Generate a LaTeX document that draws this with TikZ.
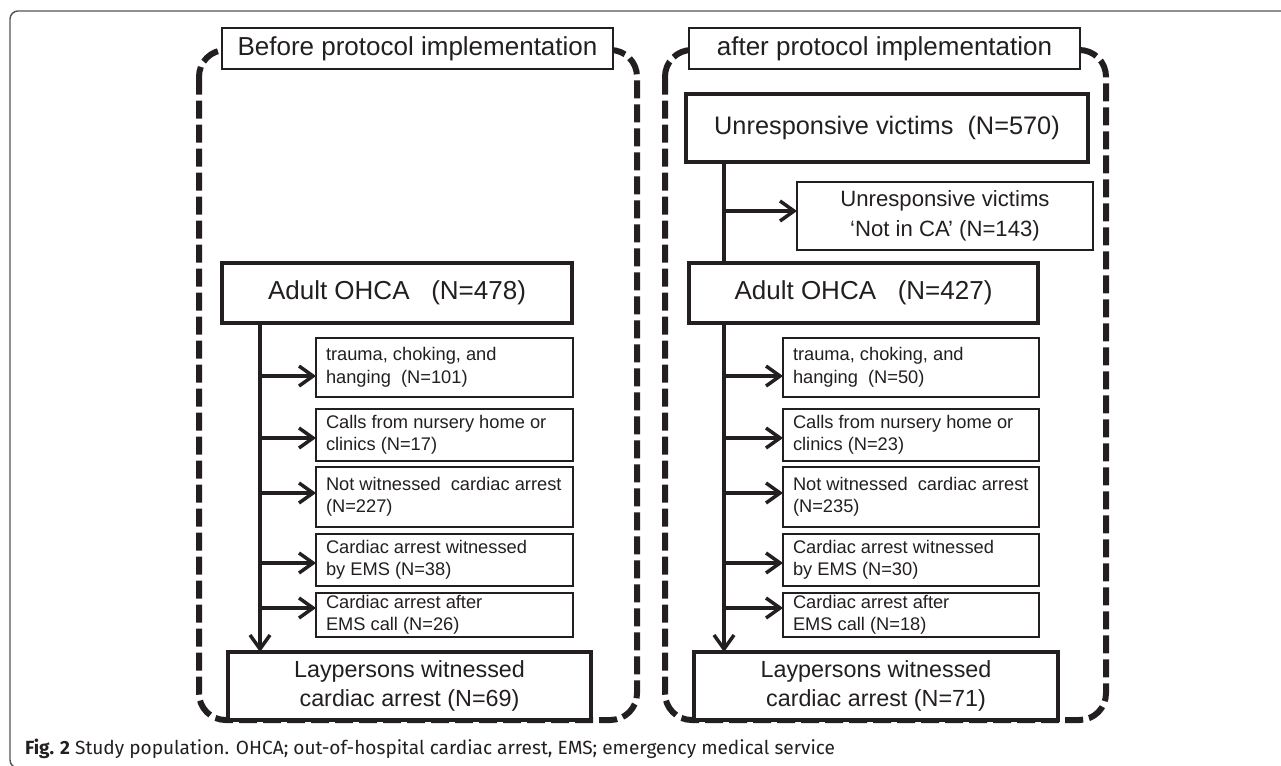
\documentclass[tikz,border=0pt]{standalone}
\usepackage{fontspec}
\setmainfont{Liberation Sans}
\newfontfamily\capfont{Fira Sans}
\usetikzlibrary{arrows.meta}
\definecolor{ink}{HTML}{231F20}
\definecolor{framegray}{HTML}{555555}

\newcommand\mkbox[7]{%
  \pgfmathsetmacro\bxcx{(#3+#5)/2}%
  \pgfmathsetmacro\bxcy{(#4+#6)/2}%
  \pgfmathsetmacro\bxw{(#5-#3)*0.75}%
  \pgfmathsetmacro\bxh{(#6-#4)*0.75}%
  \node[#2, minimum width=\bxw pt, minimum height=\bxh pt] (#1) at (\bxcx,\bxcy) {#7};%
}

\tikzset{
  every node/.style={inner sep=0pt, outer sep=0pt, text=ink},
  titlebox/.style={draw=ink, line width=0.9pt, fill=white, font=\fontsize{19.5pt}{23pt}\selectfont},
  bigbox/.style={draw=ink, line width=2.6pt, fill=white, align=center},
  midbox/.style={draw=ink, line width=2.2pt, fill=white, align=center, font=\fontsize{16.6pt}{22.5pt}\selectfont},
  smallbox/.style={draw=ink, line width=1.4pt, fill=white},
  smalltext/.style={anchor=west, align=left, font=\fontsize{13.7pt}{16.9pt}\selectfont},
  laybox/.style={bigbox, font=\fontsize{17.5pt}{21.75pt}\selectfont},
  panel/.style={draw=ink, line width=4.5pt, dash pattern=on 13.5pt off 4.5pt, rounded corners=20pt},
  frameline/.style={draw=framegray, line width=1.1pt, rounded corners=6pt},
  trunk/.style={draw=ink, line width=2.6pt},
  arr/.style={draw=ink, line width=2.6pt, -{Straight Barb[length=10.5pt, width=15pt]}},
}

\begin{document}
\begin{tikzpicture}[x=0.75pt, y=-0.75pt]
\useasboundingbox (0,0) rectangle (1281,766);

% outer frame
\draw[frameline] (1300,11) -- (10,11) -- (10,768) -- (60,768);

% dashed panels
\draw[panel] (199,50) rectangle (637,720);
\draw[panel] (665,50) rectangle (1106,720);

% titles
\mkbox{tL}{titlebox}{222}{28}{613}{69}{Before protocol implementation}
\mkbox{tR}{titlebox}{689}{28}{1080}{69}{after protocol implementation}

% ---------- left panel ----------
\mkbox{aL}{bigbox, font=\fontsize{19.5pt}{23pt}\selectfont}{222}{263}{572}{323}{Adult OHCA\ \ \ (N=478)}
\mkbox{s1L}{smallbox}{316}{338}{573}{397}{}
\mkbox{s2L}{smallbox}{316}{409}{573}{461}{}
\mkbox{s3L}{smallbox}{316}{467}{573}{527}{}
\mkbox{s4L}{smallbox}{316}{534}{573}{586}{}
\mkbox{s5L}{smallbox}{316}{593}{573}{637}{}
\node[smalltext] (s1Lt) at ([xshift=7.5pt]s1L.west) {trauma, choking, and\\hanging\ \ (N=101)};
\node[smalltext] (s2Lt) at ([xshift=7.5pt]s2L.west) {Calls from nursery home or\\clinics (N=17)};
\node[smalltext] (s3Lt) at ([xshift=7.5pt]s3L.west) {Not witnessed\ \ cardiac arrest\\(N=227)};
\node[smalltext] (s4Lt) at ([xshift=7.5pt]s4L.west) {Cardiac arrest witnessed\\by EMS (N=38)};
\node[smalltext] (s5Lt) at ([xshift=7.5pt]s5L.west) {Cardiac arrest after\\EMS call (N=26)};
\mkbox{lL}{laybox}{228}{652}{591}{720}{Laypersons witnessed\\cardiac arrest (N=69)}

\coordinate (trL) at ([xshift=28.5pt]aL.south west);
\draw[arr] (trL) -- (trL |- lL.north);
\draw[arr] ([yshift=-6.4pt]s1L.west -| trL) -- ([yshift=-6.4pt]s1L.west);
\draw[arr] ([yshift=-2.25pt]s2L.west -| trL) -- ([yshift=-2.25pt]s2L.west);
\draw[arr] ([yshift=3pt]s3L.west -| trL) -- ([yshift=3pt]s3L.west);
\draw[arr] ([yshift=-2.25pt]s4L.west -| trL) -- ([yshift=-2.25pt]s4L.west);
\draw[arr] ([yshift=5.25pt]s5L.west -| trL) -- ([yshift=5.25pt]s5L.west);

% ---------- right panel ----------
\mkbox{uR}{bigbox, font=\fontsize{19pt}{23pt}\selectfont}{686}{94}{1088}{162}{Unresponsive victims\ \ (N=570)}
\mkbox{nR}{midbox}{797}{182}{1093}{250}{Unresponsive victims\\‘Not in CA’ (N=143)}
\mkbox{aR}{bigbox, font=\fontsize{19.5pt}{23pt}\selectfont}{689}{263}{1038}{323}{Adult OHCA\ \ \ (N=427)}
\mkbox{s1R}{smallbox}{783}{338}{1039}{397}{}
\mkbox{s2R}{smallbox}{783}{409}{1039}{461}{}
\mkbox{s3R}{smallbox}{783}{467}{1039}{527}{}
\mkbox{s4R}{smallbox}{783}{534}{1039}{586}{}
\mkbox{s5R}{smallbox}{783}{593}{1039}{637}{}
\node[smalltext] (s1Rt) at ([xshift=7.5pt]s1R.west) {trauma, choking, and\\hanging\ \ (N=50)};
\node[smalltext] (s2Rt) at ([xshift=7.5pt]s2R.west) {Calls from nursery home or\\clinics (N=23)};
\node[smalltext] (s3Rt) at ([xshift=7.5pt]s3R.west) {Not witnessed\ \ cardiac arrest\\(N=235)};
\node[smalltext] (s4Rt) at ([xshift=7.5pt]s4R.west) {Cardiac arrest witnessed\\by EMS (N=30)};
\node[smalltext] (s5Rt) at ([xshift=7.5pt]s5R.west) {Cardiac arrest after\\EMS call (N=18)};
\mkbox{lR}{laybox}{694}{652}{1058}{720}{Laypersons witnessed\\cardiac arrest (N=71)}

\coordinate (trR) at ([xshift=28.5pt]uR.south west);
\draw[trunk] (trR) -- (trR |- aR.north);
\draw[arr] ([yshift=3.75pt]nR.west -| trR) -- ([yshift=3.75pt]nR.west);
\draw[arr] (trR |- aR.south) -- (trR |- lR.north);
\draw[arr] ([yshift=-6.4pt]s1R.west -| trR) -- ([yshift=-6.4pt]s1R.west);
\draw[arr] ([yshift=-2.25pt]s2R.west -| trR) -- ([yshift=-2.25pt]s2R.west);
\draw[arr] ([yshift=3pt]s3R.west -| trR) -- ([yshift=3pt]s3R.west);
\draw[arr] ([yshift=-2.25pt]s4R.west -| trR) -- ([yshift=-2.25pt]s4R.west);
\draw[arr] ([yshift=5.25pt]s5R.west -| trR) -- ([yshift=5.25pt]s5R.west);

% caption
\node[anchor=base west, font=\capfont\fontsize{14.3pt}{16pt}\selectfont] (cap) at (25,754)
  {\textbf{Fig. 2} Study population. OHCA; out-of-hospital cardiac arrest, EMS; emergency medical service};
\end{tikzpicture}
\end{document}
